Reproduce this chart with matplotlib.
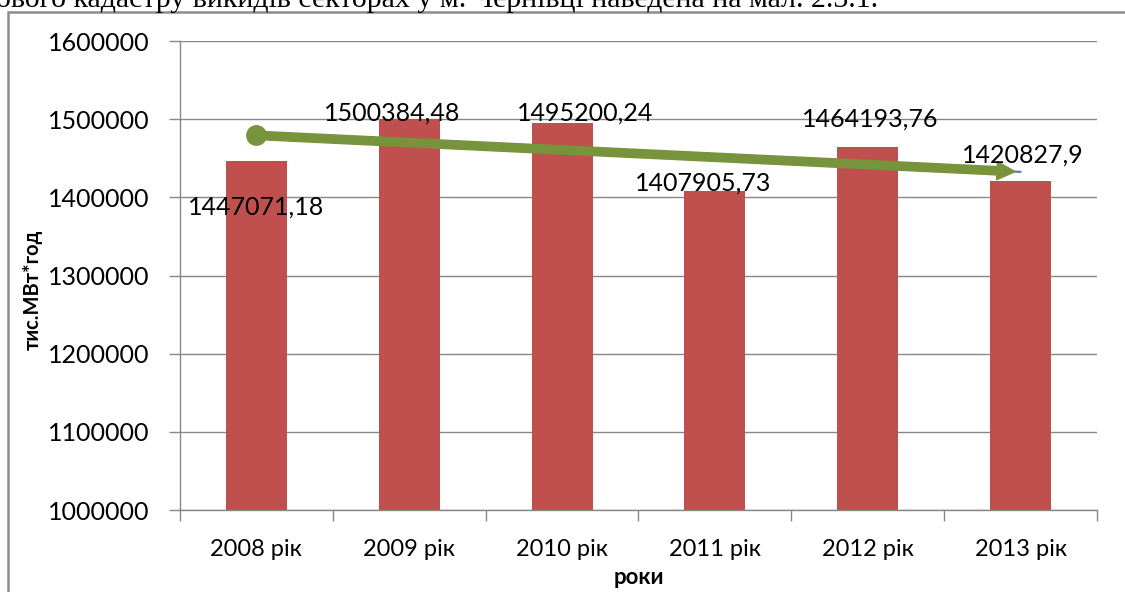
import numpy as np
import matplotlib
matplotlib.use("Agg")
import matplotlib.pyplot as plt
import matplotlib.patches as mpatches

# data
years = ["2008 рік", "2009 рік", "2010 рік", "2011 рік", "2012 рік", "2013 рік"]
values = [1447071.18, 1500384.48, 1495200.24, 1407905.73, 1464193.76, 1420827.9]
value_labels = ["1447071,18", "1500384,48", "1495200,24",
                "1407905,73", "1464193,76", "1420827,9"]
y_ticks = [1000000, 1100000, 1200000, 1300000, 1400000, 1500000, 1600000]

# label offsets in pixels (manual placement, as in the source chart)
label_dx = [0, -17, 23, -12, 2, 2]
label_dy = [-47, 6, 10, 8, 28, 26]

plt.rcParams['font.family'] = ['Lato', 'DejaVu Sans']

fig = plt.figure(figsize=(11.25, 5.92), dpi=100)

# page text cut off at the top
fig.text(-0.004, 1 - 7 / 592, "ового кадастру викидів секторах у м. Чернівці наведена на мал. 2.3.1.",
         family=['Liberation Serif', 'DejaVu Serif'], fontsize=21.5,
         ha='left', va='baseline', color='black')

# chart frame
frame = mpatches.Rectangle((8 / 1125, -0.05), 1.1, 1 - 12 / 592 + 0.05,
                           transform=fig.transFigure, fill=False,
                           edgecolor='#8c8c8c', lw=1.8, zorder=0)
fig.patches.append(frame)

ax = fig.add_axes([180 / 1125, 82 / 592, 917 / 1125, 469 / 592])

x = np.arange(len(years))
ax.bar(x, values, width=0.4, color='#C0504D', zorder=2)

ax.set_xlim(-0.5, len(years) - 0.5)
ax.set_ylim(y_ticks[0], y_ticks[-1])
ax.set_yticks(y_ticks)
ax.set_yticklabels([str(t) for t in y_ticks], fontsize=18)
ax.grid(axis='y', color='#878787', lw=1, zorder=0)
ax.set_axisbelow(True)

ax.set_xticks(x)
ax.set_xticklabels(years, fontsize=17)
ax.set_xticks(np.arange(-0.5, len(years)), minor=True)
ax.tick_params(axis='x', which='major', length=0, pad=21)
ax.tick_params(axis='x', which='minor', length=8, color='#878787', width=1)
ax.tick_params(axis='y', length=8, color='#878787', width=1, pad=14)

for side in ['top', 'right']:
    ax.spines[side].set_visible(False)
for side in ['left', 'bottom']:
    ax.spines[side].set_color('#878787')
    ax.spines[side].set_linewidth(1)

ax.set_ylabel("тис.МВт*год", fontsize=14.5, fontweight='bold')
ax.yaxis.set_label_coords(-137 / 917, 0.47)
ax.set_xlabel("роки", fontsize=16, fontweight='bold')
ax.xaxis.set_label_coords(0.5, -57 / 469)

# data labels
for i, v in enumerate(values):
    ax.annotate(value_labels[i], xy=(x[i], v), xytext=(label_dx[i], label_dy[i]),
                textcoords='offset pixels', ha='center', va='center',
                fontsize=18, color='black', zorder=5, annotation_clip=False)

# linear trend line + green arrow drawn over it
k, b = np.polyfit(x, values, 1)
trend = k * x + b
ax.plot([x[0], x[-1]], [trend[0], trend[-1]], color='#4F81BD', lw=1.6, zorder=3,
        solid_capstyle='round')
arrow = mpatches.FancyArrowPatch((x[0], trend[0]), (x[-1], trend[-1]),
                                 arrowstyle=mpatches.ArrowStyle.Simple(head_length=13, head_width=13,
                                                                       tail_width=6),
                                 mutation_scale=1, color='#77933C', shrinkA=0, shrinkB=4,
                                 zorder=4)
ax.add_patch(arrow)
ax.plot([x[0]], [trend[0]], 'o', color='#77933C', markersize=14, zorder=4)

fig.savefig("out.png", dpi=100)
